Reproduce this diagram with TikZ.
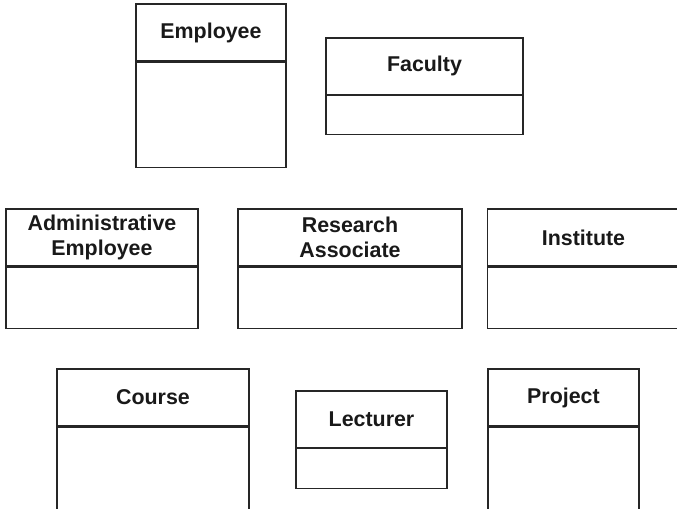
\documentclass[tikz,border=0pt]{standalone}
\usepackage{fontspec}
\setmainfont{Liberation Sans}
\usetikzlibrary{positioning}

\begin{document}
\begin{tikzpicture}[x=0.5pt, y=-0.5pt,
    head/.style={rectangle, draw=black!85, line width=0.6pt, align=center, inner sep=0pt, font=\fontsize{10.7}{12.5}\selectfont\bfseries, text=black!90},
    body/.style={rectangle, draw=black!85, line width=0.6pt, inner sep=0pt}
]
\useasboundingbox (0,0) rectangle (677,509);
\clip (0,0) rectangle (677,509);

% top row
\node[head, minimum width=75pt, minimum height=28.5pt] (employee) at (211,32.5) {Employee};
\node[body, minimum width=75pt, minimum height=52.5pt, below=0pt of employee] (employeebody) {};

\node[head, minimum width=98.5pt, minimum height=28.25pt] (faculty) at (424.5,66.25) {Faculty};
\node[body, minimum width=98.5pt, minimum height=19.25pt, below=0pt of faculty] (facultybody) {};

% middle row
\node[head, minimum width=96pt, minimum height=28.5pt] (admin) at (102,237.5) {Administrative\\Employee};
\node[body, minimum width=96pt, minimum height=30.5pt, below=0pt of admin] (adminbody) {};

\node[head, minimum width=112pt, minimum height=28.5pt] (research) at (350,237.5) {Research\\Associate};
\node[body, minimum width=112pt, minimum height=30.5pt, below=0pt of research] (researchbody) {};

\node[head, minimum width=96pt, minimum height=28.5pt] (institute) at (583.5,237.5) {Institute};
\node[body, minimum width=96pt, minimum height=30.5pt, below=0pt of institute] (institutebody) {};

% bottom row
\node[head, minimum width=96pt, minimum height=28.5pt] (course) at (153,397.5) {Course};
\node[body, minimum width=96pt, minimum height=47pt, below=0pt of course] (coursebody) {};

\node[head, minimum width=75.5pt, minimum height=28.25pt] (lecturer) at (371.5,419.25) {Lecturer};
\node[body, minimum width=75.5pt, minimum height=20pt, below=0pt of lecturer] (lecturerbody) {};

\node[head, minimum width=75.5pt, minimum height=28.5pt] (project) at (563.5,397.5) {Project};
\node[body, minimum width=75.5pt, minimum height=47pt, below=0pt of project] (projectbody) {};
\end{tikzpicture}
\end{document}
